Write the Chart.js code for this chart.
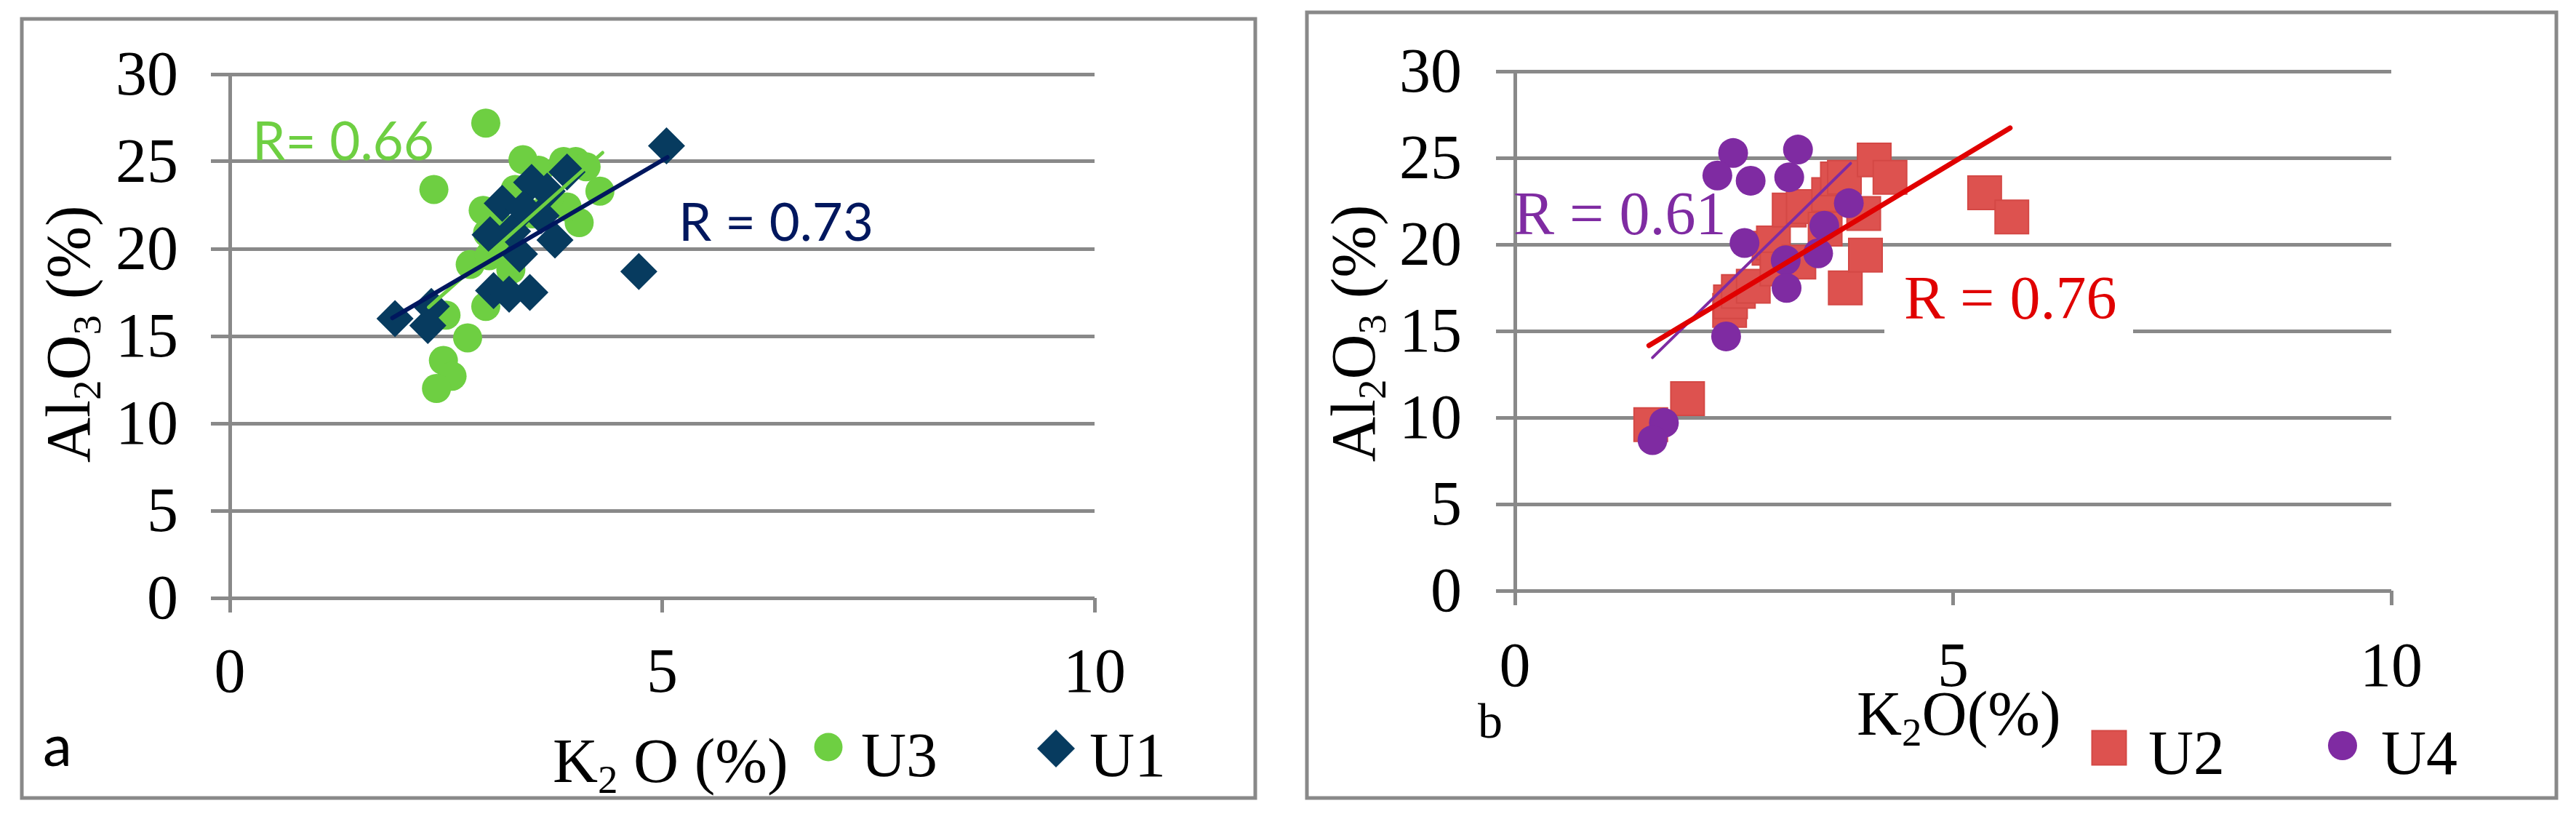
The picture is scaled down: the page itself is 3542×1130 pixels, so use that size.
<!DOCTYPE html>
<html><head><meta charset="utf-8">
<script src="https://cdn.jsdelivr.net/npm/chart.js@4.4.1/dist/chart.umd.min.js"></script>
<style>
html,body{margin:0;padding:0;background:#fff;}
#wrap{position:relative;width:3542px;height:1130px;overflow:hidden;background:#fff;}
canvas{position:absolute;top:0;}
#cl{left:0;} #cr{left:1770px;}
</style></head><body>
<div id="wrap"><canvas id="cl" width="1770" height="1130"></canvas><canvas id="cr" width="1772" height="1130"></canvas></div>
<script>
// ---------- data (K2O %, Al2O3 %) ----------
const xTickValues = [0, 5, 10];
const yTickValues = [0, 5, 10, 15, 20, 25, 30];

// panel a
const U3 = [[2.96,27.2],[2.36,23.4],[3.39,25.1],[3.57,24.5],[3.86,25.0],[4.00,25.0],[4.12,24.7],[4.28,23.3],
            [4.04,21.5],[3.90,22.4],[2.93,22.2],[2.98,20.9],[3.10,21.4],[2.78,19.1],[3.00,19.6],[3.25,18.8],
            [2.96,16.7],[2.50,16.2],[2.75,14.9],[2.47,13.6],[2.57,12.7],[2.39,12.0],[3.50,22.0],[3.70,23.0],
            [3.30,23.4],[3.20,20.2]];
const U1 = [[1.91,16.0],[2.33,16.7],[2.29,15.6],[3.05,17.6],[3.23,17.4],[3.47,17.5],[4.73,18.7],[5.05,25.9],
            [3.76,20.5],[3.35,19.7],[3.15,22.6],[3.01,20.8],[3.49,23.8],[3.90,24.4],[3.67,23.3],[3.60,21.9],
            [3.27,21.0],[3.40,22.3]];
const trendU3 = [[2.30,16.65],[4.31,25.5]];
const trendU1 = [[1.88,16.04],[5.06,25.24]];

// panel b
const U2 = [[1.55,9.6],[1.97,11.1],[2.45,16.2],[2.46,16.7],[2.55,17.3],[2.72,17.6],[2.90,19.8],[2.95,20.1],
            [2.99,18.6],[3.13,22.0],[3.24,19.0],[3.29,22.2],[3.54,20.9],[3.58,22.9],[3.68,23.8],[3.76,23.9],
            [3.77,17.5],[3.98,21.8],[4.00,19.4],[4.10,24.9],[4.28,23.9],[5.36,23.0],[5.67,21.6]];
const U4 = [[2.49,25.3],[2.31,24.0],[2.69,23.7],[2.62,20.1],[2.41,14.7],[1.70,9.7],[1.57,8.7],[3.23,25.5],
            [3.13,23.9],[3.09,19.1],[3.10,17.5],[3.81,22.4],[3.53,21.1],[3.46,19.5]];
const trendU2 = [[1.53,14.17],[5.65,26.75]];
const trendU4 = [[1.57,13.47],[3.83,24.70]];

const seriesNames = {U1:'U1', U2:'U2', U3:'U3', U4:'U4'};
const rLabels = {U3:'R= 0.66', U1:'R = 0.73', U4:'R = 0.61', U2:'R = 0.76'};

// ---------- styles ----------
const SERIF = '"Liberation Serif", "Times New Roman", serif';
const SANS = 'Lato, "Open Sans", sans-serif';
const GRAY = '#898989';
const C = {U3:'#6ecf42', U1:'#073b5f', U1t:'#00175e', U2:'#dd524f', U2b:'#d44845', U2t:'#e00000', U4:'#7f2ba2'};

const pts = a => a.map(p => ({x:p[0], y:p[1]}));

function drawRich(ctx, parts, x, y, size, family, color, rotate){
  ctx.save();
  ctx.translate(x, y);
  if (rotate) ctx.rotate(-Math.PI/2);
  ctx.fillStyle = color; ctx.textBaseline = 'alphabetic'; ctx.textAlign = 'left';
  let cx = 0;
  for (const p of parts){
    const s = p.sub ? size*0.64 : size;
    ctx.font = `${s}px ${family}`;
    ctx.fillText(p.t, cx, p.sub ? size*0.17 : 0);
    cx += ctx.measureText(p.t).width;
  }
  ctx.restore();
}
function drawMarker(ctx, style, x, y, r, fill, stroke){
  ctx.save(); ctx.beginPath(); ctx.fillStyle = fill;
  if (style === 'circle') ctx.arc(x, y, r, 0, Math.PI*2);
  else if (style === 'diamond'){ ctx.moveTo(x-r,y); ctx.lineTo(x,y-r); ctx.lineTo(x+r,y); ctx.lineTo(x,y+r); ctx.closePath(); }
  else if (style === 'square'){ ctx.rect(x-r, y-r, 2*r, 2*r); }
  ctx.fill();
  if (stroke){ ctx.strokeStyle = stroke; ctx.lineWidth = 2; ctx.stroke(); }
  ctx.restore();
}
function fitText(ctx, text, x, y, family, targetW, color){
  ctx.save();
  ctx.font = `100px ${family}`;
  const w = ctx.measureText(text).width;
  const size = 100*targetW/w;
  ctx.font = `${size}px ${family}`;
  ctx.fillStyle = color; ctx.textBaseline = 'alphabetic'; ctx.textAlign = 'left';
  ctx.fillText(text, x, y);
  ctx.restore();
}
function plainText(ctx, text, x, y, size, family, color){
  ctx.save(); ctx.font = `${size}px ${family}`; ctx.fillStyle = color;
  ctx.textBaseline = 'alphabetic'; ctx.textAlign = 'left'; ctx.fillText(text, x, y); ctx.restore();
}

const decorations = {
  cl(ctx){
    ctx.save(); ctx.strokeStyle = GRAY; ctx.lineWidth = 5; ctx.strokeRect(30, 26, 1696, 1071); ctx.restore();
    drawRich(ctx, [{t:'Al'},{t:'2',sub:1},{t:'O'},{t:'3',sub:1},{t:' (%)'}], 123, 636, 86, SERIF, '#000', true);
    drawRich(ctx, [{t:'K'},{t:'2',sub:1},{t:' O (%)'}], 760, 1075, 86, SERIF, '#000', false);
    drawMarker(ctx, 'circle', 1139, 1027, 19.5, C.U3);
    plainText(ctx, seriesNames.U3, 1184, 1067, 86, SERIF, '#000');
    drawMarker(ctx, 'diamond', 1452, 1029, 26, C.U1);
    plainText(ctx, seriesNames.U1, 1498, 1067, 86, SERIF, '#000');
    plainText(ctx, 'a', 59, 1053, 80, SANS, '#000');
    fitText(ctx, rLabels.U3, 347, 220, SANS, 250, C.U3);
    fitText(ctx, rLabels.U1, 933, 331, SANS, 268, C.U1t);
  },
  cr(ctx){
    ctx.save(); ctx.strokeStyle = GRAY; ctx.lineWidth = 5; ctx.strokeRect(27, 17, 1718, 1080); ctx.restore();
    drawRich(ctx, [{t:'Al'},{t:'2',sub:1},{t:'O'},{t:'3',sub:1},{t:' (%)'}], 120, 635, 86, SERIF, '#000', true);
    drawRich(ctx, [{t:'K'},{t:'2',sub:1},{t:'O(%)'}], 783, 1010, 86, SERIF, '#000', false);
    drawMarker(ctx, 'square', 1130, 1028, 23.5, C.U2, C.U2b);
    plainText(ctx, seriesNames.U2, 1184, 1064, 86, SERIF, '#000');
    drawMarker(ctx, 'circle', 1451, 1025, 20, C.U4);
    plainText(ctx, seriesNames.U4, 1504, 1064, 86, SERIF, '#000');
    plainText(ctx, 'b', 262, 1014, 68, SERIF, '#000');
    plainText(ctx, rLabels.U4, 311, 322, 84, SERIF, C.U4);
    ctx.save(); ctx.fillStyle = '#fff'; ctx.fillRect(821, 365, 342, 105); ctx.restore();
    plainText(ctx, rLabels.U2, 848, 438, 84, SERIF, C.U2t);
  }
};

const decoPlugin = { id:'deco', afterDraw(chart){ const f = decorations[chart.canvas.id]; if (f) f(chart.ctx); } };

function makeChart(id, datasets, geo){
  return new Chart(document.getElementById(id), {
    type: 'scatter',
    data: { datasets },
    plugins: [decoPlugin],
    options: {
      responsive: false, animation: false, devicePixelRatio: 1,
      layout: { padding: { left: 0, top: geo.top, right: geo.right, bottom: 0 } },
      plugins: { legend: { display: false }, tooltip: { enabled: false } },
      scales: {
        x: {
          type: 'linear', min: 0, max: 10,
          afterBuildTicks: s => { s.ticks = xTickValues.map(v => ({value: v})); },
          ticks: { color: '#000', font: { family: SERIF, size: 86 }, padding: geo.xPad, maxRotation: 0, autoSkip: false },
          grid: { display: true, drawOnChartArea: false, drawTicks: true, tickLength: 20, color: GRAY, lineWidth: 5 },
          border: { display: false },
          afterFit: s => { s.height = geo.xH; }
        },
        y: {
          type: 'linear', min: 0, max: 30,
          afterBuildTicks: s => { s.ticks = yTickValues.map(v => ({value: v})); },
          ticks: { color: '#000', font: { family: SERIF, size: 86 }, padding: geo.yPad, labelOffset: 5, autoSkip: false },
          grid: { color: GRAY, lineWidth: 5, tickLength: 26 },
          border: { display: true, color: GRAY, width: 5 },
          afterFit: s => { s.width = geo.yW; }
        }
      }
    }
  });
}

const trendDS = (d, color, w) => ({ data: pts(d), showLine: true, pointRadius: 0, borderColor: color, borderWidth: w, borderCapStyle: 'round', backgroundColor: color });

makeChart('cl', [
  trendDS(trendU1, C.U1t, 6),
  trendDS(trendU3, C.U3, 5),
  { label: seriesNames.U1, data: pts(U1), pointStyle: 'rectRot', pointRadius: 25.5, backgroundColor: C.U1, borderWidth: 0 },
  { label: seriesNames.U3, data: pts(U3), pointStyle: 'circle', pointRadius: 20, backgroundColor: C.U3, borderWidth: 0 }
], { top: 102, right: 265, xH: 308, yW: 316, xPad: 35, yPad: 45 });

makeChart('cr', [
  trendDS(trendU2, C.U2t, 7),
  trendDS(trendU4, C.U4, 4),
  { label: seriesNames.U4, data: pts(U4), pointStyle: 'circle', pointRadius: 20.5, backgroundColor: C.U4, borderWidth: 0 },
  { label: seriesNames.U2, data: pts(U2), pointStyle: 'rect', pointRadius: 32.5, backgroundColor: C.U2, borderColor: C.U2b, borderWidth: 2 }
], { top: 95, right: 254, xH: 318, yW: 313, xPad: 37, yPad: 47 });
</script>
</body></html>
